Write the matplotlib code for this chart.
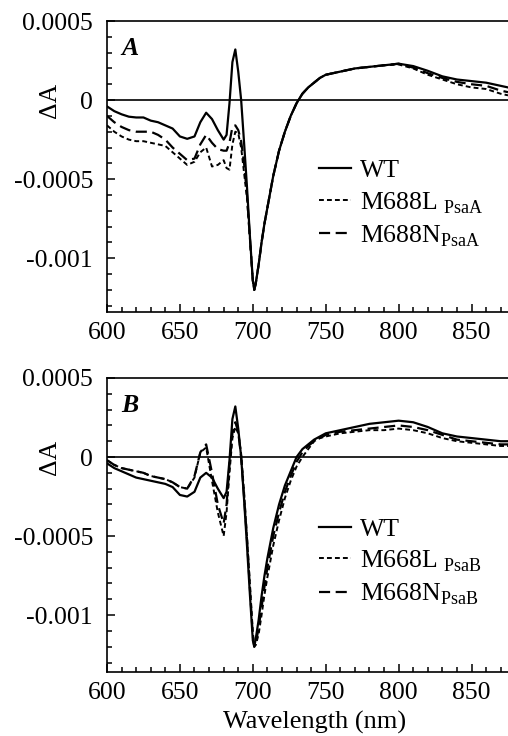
import numpy as np
import matplotlib
matplotlib.use("Agg")
import matplotlib.pyplot as plt
from matplotlib.ticker import MultipleLocator

plt.rcParams['font.family'] = ['Liberation Serif', 'DejaVu Serif']
plt.rcParams['mathtext.fontset'] = 'custom'
plt.rcParams['mathtext.rm'] = 'Liberation Serif'

# wavelength grid (nm)
wl = [600, 605, 610, 615, 620, 625, 630, 635, 640, 645, 650, 655, 660, 664, 668, 672, 676, 680,
      682, 684, 686, 688, 690, 692, 694, 696, 698, 700, 701, 702, 704, 706, 708, 710, 714, 718, 722,
      726, 730, 734, 738, 742, 746, 750, 760, 770, 780, 790, 800, 810, 820, 830, 840, 850, 860,
      870, 875]

# panel A (PsaA mutants)
a_wt = [-4e-5, -7e-5, -9e-5, -10.5e-5, -11e-5, -11e-5, -13e-5, -14e-5, -16e-5, -18e-5, -23e-5, -24.5e-5,
        -23e-5, -14e-5, -8e-5, -12e-5, -19e-5, -25e-5, -22e-5, -2e-5, 24e-5, 32e-5, 18e-5, 0.0,
        -27e-5, -55e-5, -86e-5, -114e-5, -120e-5, -116e-5, -104e-5, -90e-5, -78e-5, -68e-5, -48e-5, -32e-5, -20e-5,
        -10e-5, -2e-5, 4e-5, 8e-5, 11e-5, 14e-5, 16e-5, 18e-5, 20e-5, 21e-5, 22e-5, 23e-5, 21.5e-5, 18.5e-5,
        15e-5, 13e-5, 12e-5, 11e-5, 9e-5, 8e-5]
a_L = [-16e-5, -20e-5, -23e-5, -25e-5, -26e-5, -26e-5, -27e-5, -28e-5, -29e-5, -33e-5, -37e-5, -41e-5,
       -39e-5, -33e-5, -30e-5, -42e-5, -41e-5, -38e-5, -43e-5, -44e-5, -28e-5, -20e-5, -21e-5, -30e-5,
       -46e-5, -62e-5, -88e-5, -114e-5, -120e-5, -116e-5, -104e-5, -90e-5, -78e-5, -68e-5, -48e-5, -32e-5, -20e-5,
       -10e-5, -2e-5, 4e-5, 8e-5, 11e-5, 14e-5, 16e-5, 18e-5, 20e-5, 21e-5, 22e-5, 22.5e-5, 20e-5, 16e-5,
       13e-5, 10e-5, 8e-5, 7e-5, 4e-5, 3e-5]
a_N = [-10e-5, -14e-5, -17e-5, -19e-5, -20e-5, -20e-5, -20e-5, -22e-5, -25e-5, -30e-5, -34e-5, -38e-5,
       -37e-5, -28e-5, -22e-5, -27e-5, -31e-5, -32e-5, -32e-5, -27e-5, -17e-5, -16e-5, -19e-5, -26e-5,
       -40e-5, -60e-5, -87e-5, -114e-5, -120e-5, -116e-5, -104e-5, -90e-5, -78e-5, -68e-5, -48e-5, -32e-5, -20e-5,
       -10e-5, -2e-5, 4e-5, 8e-5, 11e-5, 14e-5, 16e-5, 18e-5, 20e-5, 21e-5, 22e-5, 23e-5, 20.5e-5, 17e-5,
       14e-5, 11.5e-5, 10e-5, 9e-5, 6e-5, 5e-5]

# panel B (PsaB mutants)
b_wt = [-4e-5, -7e-5, -9e-5, -11e-5, -13e-5, -14e-5, -15e-5, -16e-5, -17e-5, -19e-5, -24e-5, -25e-5,
        -22e-5, -13e-5, -10e-5, -13e-5, -20e-5, -26e-5, -22e-5, -2e-5, 24e-5, 32e-5, 18e-5, 0.0,
        -27e-5, -56e-5, -87e-5, -116e-5, -120e-5, -115e-5, -103e-5, -88e-5, -75e-5, -64e-5, -45e-5, -30e-5, -18e-5,
        -9e-5, 0.0, 5e-5, 8e-5, 11e-5, 13e-5, 15e-5, 17e-5, 19e-5, 21e-5, 22e-5, 23e-5, 22e-5, 19e-5,
        15e-5, 13e-5, 12e-5, 11e-5, 10e-5, 10e-5]
b_L = [-2e-5, -5e-5, -7e-5, -8e-5, -9e-5, -10e-5, -12e-5, -13e-5, -14e-5, -16e-5, -19e-5, -20e-5,
       -13e-5, 3e-5, 6e-5, -15e-5, -35e-5, -50e-5, -35e-5, -10e-5, 12e-5, 19e-5, 15e-5, 2e-5,
       -22e-5, -50e-5, -80e-5, -111e-5, -119e-5, -119e-5, -112e-5, -100e-5, -87e-5, -76e-5, -56e-5, -40e-5, -26e-5,
       -15e-5, -6e-5, 0.0, 5e-5, 10e-5, 12e-5, 13e-5, 15e-5, 16e-5, 17e-5, 17e-5, 18e-5, 17e-5, 15e-5,
       12e-5, 10e-5, 9e-5, 8e-5, 7e-5, 7e-5]
b_N = [-2e-5, -5e-5, -7e-5, -8e-5, -9e-5, -10e-5, -12e-5, -13e-5, -14e-5, -16e-5, -19e-5, -20e-5,
       -12e-5, 3e-5, 8e-5, -10e-5, -30e-5, -42e-5, -30e-5, -5e-5, 15e-5, 22e-5, 16e-5, 0.0,
       -25e-5, -52e-5, -83e-5, -113e-5, -120e-5, -118e-5, -108e-5, -95e-5, -82e-5, -70e-5, -50e-5, -35e-5, -22e-5,
       -12e-5, -3e-5, 3e-5, 7e-5, 10e-5, 12e-5, 14e-5, 16e-5, 17e-5, 18e-5, 19e-5, 20e-5, 19e-5, 17e-5,
       14e-5, 11e-5, 10e-5, 9e-5, 8e-5, 8e-5]

labels_a = ["WT", "M688L $_{\\rm PsaA}$", "M688N$_{\\rm PsaA}$"]
labels_b = ["WT", "M668L $_{\\rm PsaB}$", "M668N$_{\\rm PsaB}$"]
yticks = [-0.001, -0.0005, 0, 0.0005]
yticklabels = ["-0.001", "-0.0005", "0", "0.0005"]

fs = 18.5
fig = plt.figure(figsize=(5.08, 7.36), dpi=100)
W, H = 508, 736
axA = fig.add_axes([107/W, 1-312/H, 1-107/W, 291/H])
axB = fig.add_axes([107/W, 1-672/H, 1-107/W, 294/H])

def panel(ax, wt, L, N, labels, letter, ymin):
    ax.plot(wl, wt, color='k', lw=1.6, label=labels[0])
    ax.plot(wl, L, color='k', lw=1.4, ls=(0, (2.5, 1.6)), label=labels[1])
    ax.plot(wl, N, color='k', lw=1.6, ls=(0, (5, 2.5)), label=labels[2])
    ax.axhline(0, color='k', lw=1.2)
    ax.set_xlim(600, 875); ax.set_ylim(ymin, 0.0005)
    ax.spines['right'].set_visible(False)
    for s in ['left', 'top', 'bottom']: ax.spines[s].set_linewidth(1.2)
    ax.xaxis.set_major_locator(MultipleLocator(50)); ax.xaxis.set_minor_locator(MultipleLocator(10))
    ax.set_yticks(yticks); ax.set_yticklabels(yticklabels)
    ax.yaxis.set_minor_locator(MultipleLocator(0.0001))
    ax.tick_params(which='both', direction='in', labelsize=fs, top=False, right=False, width=1.1)
    ax.tick_params(which='major', length=6); ax.tick_params(which='minor', length=3.5)
    ax.tick_params(axis='y', pad=10); ax.tick_params(axis='x', pad=7)
    ax.text(0.035, 0.905, letter, transform=ax.transAxes, fontsize=fs, fontweight='bold',
            fontstyle='italic', va='center')
    ax.legend(loc='upper left', bbox_to_anchor=(0.503, 0.56), frameon=False, fontsize=fs,
              handlelength=1.25, handletextpad=0.35, labelspacing=0.3, borderaxespad=0)

panel(axA, a_wt, a_L, a_N, labels_a, "A", -0.00134)
panel(axB, b_wt, b_L, b_N, labels_b, "B", -0.00136)

fig.text(50/W, 1-100/H, "ΔA", rotation=90, ha='center', va='center', fontsize=fs)
fig.text(50/W, 1-457/H, "ΔA", rotation=90, ha='center', va='center', fontsize=fs)
fig.text(315/W, 1-722/H, "Wavelength (nm)", ha='center', va='center', fontsize=19)

plt.savefig("out.png", dpi=100)
